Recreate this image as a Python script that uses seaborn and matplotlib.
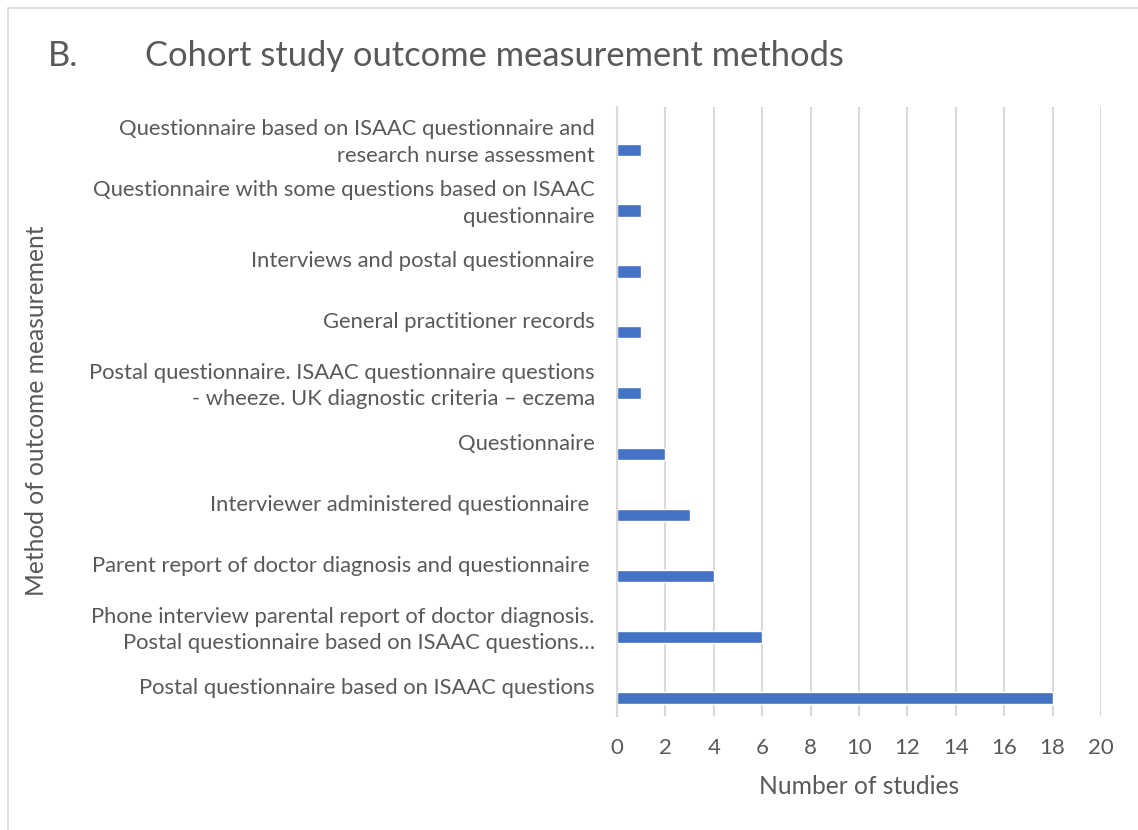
import numpy as np
import pandas as pd
import seaborn as sns
import matplotlib.pyplot as plt
from matplotlib.patches import Rectangle

# Data (top to bottom as shown in the chart)
methods = [
    'Questionnaire based on ISAAC questionnaire and\nresearch nurse assessment',
    'Questionnaire with some questions based on ISAAC\nquestionnaire',
    'Interviews and postal questionnaire',
    'General practitioner records',
    'Postal questionnaire. ISAAC questionnaire questions\n- wheeze. UK diagnostic criteria \u2013 eczema',
    'Questionnaire',
    'Interviewer administered questionnaire ',
    'Parent report of doctor diagnosis and questionnaire ',
    'Phone interview parental report of doctor diagnosis.\nPostal questionnaire based on ISAAC questions\u2026',
    'Postal questionnaire based on ISAAC questions',
]
n_studies = [1, 1, 1, 1, 1, 2, 3, 4, 6, 18]
x_ticks = [0, 2, 4, 6, 8, 10, 12, 14, 16, 18, 20]

text_col = '#595959'
bar_col = '#4472C4'
grid_col = '#D9D9D9'

sns.set_style('white')
plt.rcParams['font.family'] = ['Lato', 'DejaVu Sans']

df = pd.DataFrame({'method': methods, 'n': n_studies})
df['idx'] = np.arange(len(df))
# Excel draws the bar in the lower part of each category band
df['pos'] = df['idx'] + 0.2

fig = plt.figure(figsize=(11.38, 8.3), dpi=100)
ax = fig.add_axes([0.5422, 0.1373, 0.4253, 0.7338])

sns.barplot(data=df, x='n', y='pos', orient='h', native_scale=True,
            color=bar_col, width=0.2, saturation=1, ax=ax)

ax.set_xlim(0, 20)
ax.set_ylim(9.5, -0.5)
ax.set_xticks(x_ticks)
ax.set_xticklabels([str(t) for t in x_ticks], fontsize=16, color=text_col)
ax.tick_params(axis='x', length=0, pad=16)

ax.set_yticks(df['idx'])
ax.set_yticklabels(df['method'], fontsize=15.8, color=text_col,
                   linespacing=1.4)
ax.set_yticks(np.arange(-0.5, 10, 1), minor=True)
ax.tick_params(axis='y', which='major', length=0, pad=16)
ax.tick_params(axis='y', which='minor', length=8, width=1.2, color=grid_col)

ax.grid(axis='x', color=grid_col, linewidth=1.5)
ax.set_axisbelow(True)
for s in ['top', 'right', 'bottom']:
    ax.spines[s].set_visible(False)
ax.spines['left'].set_color(grid_col)
ax.spines['left'].set_linewidth(1.5)

ax.set_xlabel('Number of studies', fontsize=17.7, color=text_col, labelpad=12)
ax.set_ylabel('')
fig.text(0.032, 0.505, 'Method of outcome measurement', rotation=90,
         ha='center', va='center', fontsize=17.7, color=text_col)

fig.text(0.042, 0.932, 'B.', fontsize=24.8, color=text_col, va='center')
fig.text(0.127, 0.932, 'Cohort study outcome measurement methods',
         fontsize=24.8, color=text_col, va='center')

# light chart border
fig.patches.append(Rectangle((8 / 1138, -0.05), 1.1, 1 - 8 / 830 + 0.05,
                             transform=fig.transFigure, fill=False,
                             edgecolor=grid_col, linewidth=1.2))

fig.savefig('out.png', dpi=100, facecolor='white')
